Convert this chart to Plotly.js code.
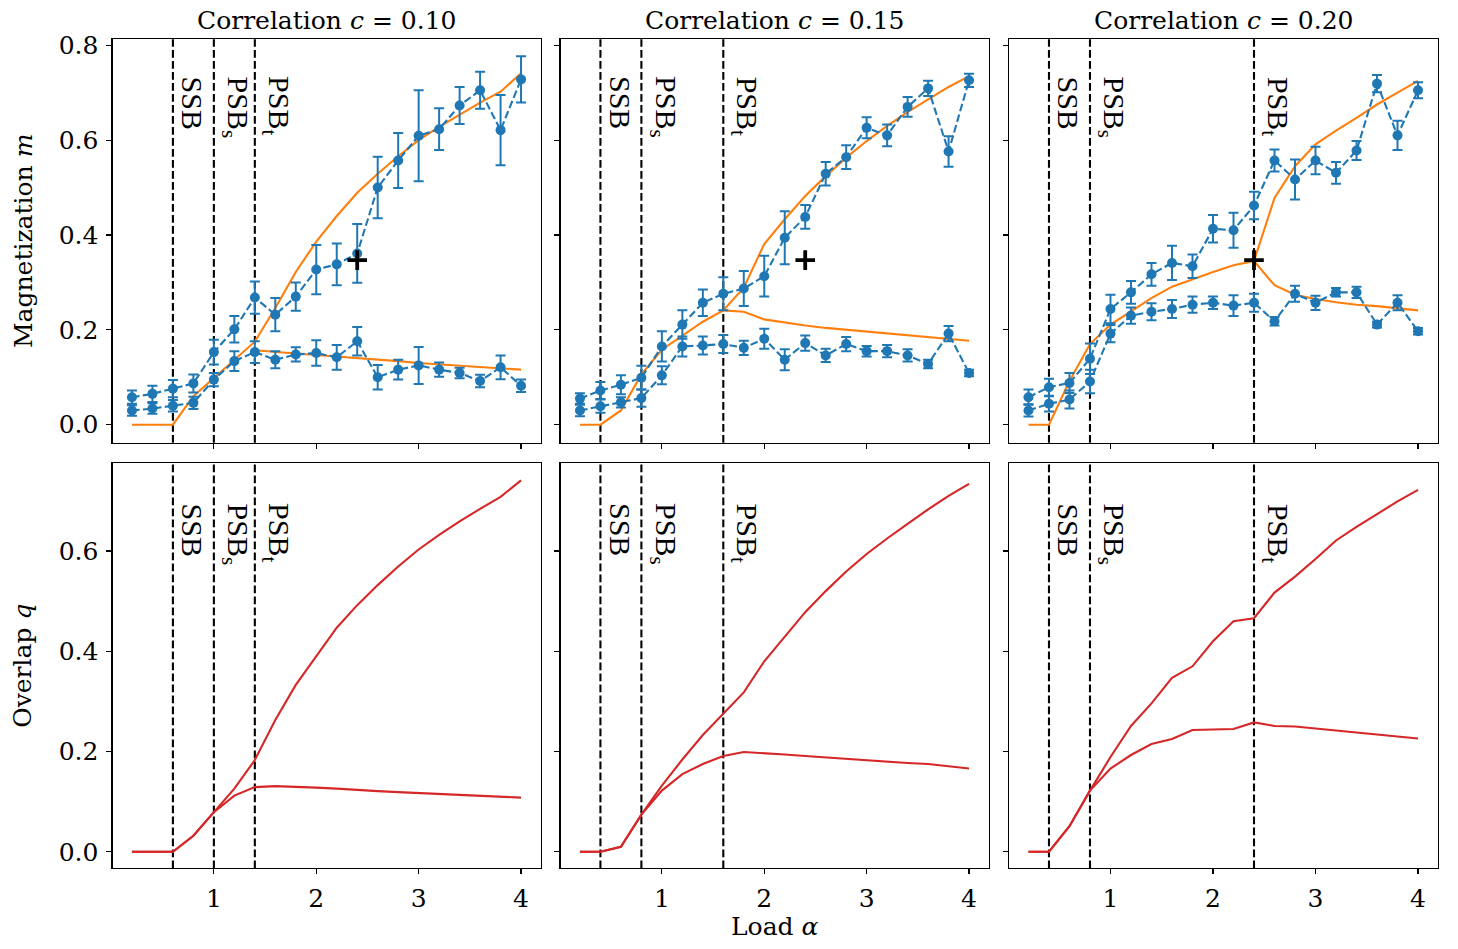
<!DOCTYPE html>
<html>
<head>
<meta charset="utf-8">
<script src="https://cdn.plot.ly/plotly-3.0.1.min.js"></script>
<style>html,body{margin:0;padding:0;background:#fff;}#chart{width:1458px;height:949px;}</style>
</head>
<body>
<div id="chart"></div>
<script>
// ---------------- data ----------------
const alpha = [0.2,0.4,0.6,0.8,1.0,1.2,1.4,1.6,1.8,2.0,2.2,2.4,2.6,2.8,3.0,3.2,3.4,3.6,3.8,4.0];
const correlations = ["0.10","0.15","0.20"];
const transitionLabels = ["SSB","PSB<sub>s</sub>","PSB<sub>t</sub>"];
const transitions1 = [0.6,1.0,1.4];
const transitions2 = [0.4,0.8,1.6];
const transitions3 = [0.4,0.8,2.4];
const xTicks = [1,2,3,4];
const mTicks = [0.0,0.2,0.4,0.6,0.8];
const qTicks = [0.0,0.2,0.4,0.6];
const plusX = [2.4];
const plusY = [0.347];

// c = 0.10
const m1Hi    = [0.058,0.065,0.076,0.087,0.153,0.201,0.268,0.232,0.270,0.327,0.338,0.361,0.500,0.557,0.609,0.623,0.673,0.705,0.621,0.728];
const m1HiErr = [0.014,0.017,0.018,0.019,0.026,0.028,0.034,0.035,0.030,0.052,0.044,0.062,0.065,0.058,0.096,0.044,0.039,0.039,0.074,0.049];
const m1Lo    = [0.030,0.034,0.040,0.046,0.095,0.134,0.153,0.137,0.148,0.151,0.142,0.176,0.100,0.116,0.125,0.116,0.109,0.092,0.121,0.082];
const m1LoErr = [0.011,0.011,0.012,0.013,0.014,0.021,0.023,0.018,0.015,0.027,0.026,0.030,0.026,0.021,0.039,0.015,0.011,0.013,0.025,0.013];
const th1Hi   = [0,0,0,0.060,0.099,0.137,0.175,0.246,0.322,0.386,0.440,0.489,0.529,0.566,0.600,0.628,0.654,0.679,0.702,0.741];
const th1LoX  = [1.4,1.6,1.8,2.0,2.2,2.4,2.6,2.8,3.0,3.2,3.4,3.6,3.8,4.0];
const th1Lo   = [0.157,0.153,0.150,0.147,0.144,0.140,0.137,0.134,0.130,0.127,0.124,0.121,0.118,0.116];
const q1Hi    = [0,0,0,0.032,0.079,0.126,0.183,0.263,0.333,0.391,0.447,0.492,0.532,0.569,0.603,0.632,0.659,0.684,0.708,0.741];
const q1Lo    = [0,0,0,0.032,0.079,0.112,0.129,0.131,0.130,0.128,0.126,0.123,0.121,0.119,0.117,0.115,0.113,0.111,0.110,0.108];

// c = 0.15
const m2Hi    = [0.055,0.072,0.084,0.099,0.165,0.211,0.257,0.276,0.287,0.313,0.394,0.438,0.529,0.564,0.626,0.610,0.670,0.709,0.576,0.726];
const m2HiErr = [0.011,0.018,0.020,0.025,0.032,0.030,0.028,0.035,0.037,0.043,0.056,0.025,0.025,0.025,0.022,0.023,0.021,0.016,0.032,0.014];
const m2Lo    = [0.030,0.039,0.047,0.056,0.104,0.165,0.167,0.170,0.162,0.181,0.137,0.172,0.146,0.170,0.155,0.155,0.146,0.128,0.192,0.109];
const m2LoErr = [0.012,0.014,0.011,0.018,0.019,0.021,0.019,0.019,0.015,0.021,0.022,0.016,0.014,0.015,0.011,0.013,0.013,0.009,0.016,0.007];
const th2Hi   = [0,0,0.030,0.106,0.158,0.188,0.217,0.241,0.289,0.381,0.433,0.482,0.524,0.563,0.598,0.630,0.659,0.686,0.712,0.735];
const th2LoX  = [1.6,1.8,2.0,2.2,2.4,2.6,2.8,3.0,3.2,3.4,3.6,3.8,4.0];
const th2Lo   = [0.241,0.238,0.222,0.215,0.209,0.204,0.200,0.196,0.192,0.189,0.185,0.181,0.177];
const q2Hi    = [0,0,0.010,0.074,0.132,0.184,0.233,0.275,0.318,0.380,0.430,0.478,0.520,0.559,0.594,0.625,0.654,0.683,0.710,0.734];
const q2Lo    = [0,0,0.010,0.074,0.122,0.155,0.175,0.191,0.199,0.197,0.194,0.191,0.188,0.185,0.182,0.180,0.177,0.175,0.171,0.166];

// c = 0.20
const m3Hi    = [0.058,0.079,0.088,0.139,0.244,0.279,0.317,0.341,0.334,0.413,0.410,0.462,0.557,0.517,0.557,0.531,0.578,0.719,0.610,0.705];
const m3HiErr = [0.016,0.018,0.021,0.032,0.030,0.024,0.024,0.036,0.025,0.029,0.037,0.029,0.023,0.042,0.029,0.023,0.020,0.018,0.031,0.017];
const m3Lo    = [0.030,0.044,0.053,0.091,0.192,0.230,0.238,0.244,0.253,0.257,0.251,0.257,0.218,0.276,0.257,0.279,0.279,0.211,0.257,0.197];
const m3LoErr = [0.013,0.016,0.019,0.025,0.018,0.017,0.018,0.019,0.017,0.013,0.022,0.019,0.009,0.017,0.015,0.009,0.012,0.006,0.016,0.007];
const th3Hi   = [0,0,0.092,0.170,0.211,0.239,0.267,0.291,0.307,0.322,0.336,0.345,0.478,0.545,0.591,0.620,0.647,0.675,0.700,0.725];
const th3LoX  = [2.4,2.6,2.8,3.0,3.2,3.4,3.6,3.8,4.0];
const th3Lo   = [0.345,0.294,0.274,0.265,0.258,0.253,0.250,0.245,0.241];
const q3Hi    = [0,0,0.051,0.122,0.189,0.251,0.296,0.347,0.370,0.420,0.460,0.466,0.517,0.549,0.584,0.621,0.648,0.674,0.699,0.722];
const q3Lo    = [0,0,0.051,0.122,0.166,0.193,0.215,0.225,0.243,0.244,0.245,0.258,0.251,0.250,0.246,0.242,0.238,0.235,0.231,0.226];

// ---------------- styling ----------------
const W = 1458, H = 949;
const BLUE = '#1f77b4', ORANGE = '#ff7f0e', RED = '#d62728';
const SERIF = 'DejaVu Serif, serif';
const LABELFONT = 'Liberation Serif, Times New Roman, serif';
const colPx = [[112.5,540.5],[560.5,988.5],[1009,1437.5]];
const topPx = [39.3,442.7], botPx = [463.3,868.3];
const xd = colPx.map(c => [c[0]/W, c[1]/W]);
const ydTop = [1-topPx[1]/H, 1-topPx[0]/H];
const ydBot = [1-botPx[1]/H, 1-botPx[0]/H];

const panels = [
  {mHi:m1Hi,mHiErr:m1HiErr,mLo:m1Lo,mLoErr:m1LoErr,thHi:th1Hi,thLoX:th1LoX,thLo:th1Lo,qHi:q1Hi,qLo:q1Lo,tr:transitions1},
  {mHi:m2Hi,mHiErr:m2HiErr,mLo:m2Lo,mLoErr:m2LoErr,thHi:th2Hi,thLoX:th2LoX,thLo:th2Lo,qHi:q2Hi,qLo:q2Lo,tr:transitions2},
  {mHi:m3Hi,mHiErr:m3HiErr,mLo:m3Lo,mLoErr:m3LoErr,thHi:th3Hi,thLoX:th3LoX,thLo:th3Lo,qHi:q3Hi,qLo:q3Lo,tr:transitions3}
];

const traces = [];
const shapes = [];
const annotations = [];
const dashPat = '7.7px,3.3px';

panels.forEach((p, i) => {
  const xt = 'x' + (i===0 ? '' : (i+1));
  const yt = 'y' + (i===0 ? '' : (i+1));
  const xb = 'x' + (i+4);
  const yb = 'y' + (i+4);
  // theory (orange)
  traces.push({x:alpha, y:p.thHi, xaxis:xt, yaxis:yt, type:'scatter', mode:'lines',
    line:{color:ORANGE, width:2.1}, hoverinfo:'skip'});
  traces.push({x:p.thLoX, y:p.thLo, xaxis:xt, yaxis:yt, type:'scatter', mode:'lines',
    line:{color:ORANGE, width:2.1}, hoverinfo:'skip'});
  // simulations (blue)
  [[p.mHi,p.mHiErr],[p.mLo,p.mLoErr]].forEach(([v,e]) => {
    traces.push({x:alpha, y:v, xaxis:xt, yaxis:yt, type:'scatter', mode:'lines+markers',
      line:{color:BLUE, width:2.1, dash:dashPat},
      marker:{color:BLUE, size:10},
      error_y:{type:'data', array:e, visible:true, color:BLUE, thickness:2, width:5}});
  });
  // plus marker
  traces.push({x:plusX, y:plusY, xaxis:xt, yaxis:yt, type:'scatter', mode:'markers',
    marker:{symbol:'cross-thin', size:14, color:'black', line:{color:'black', width:3.8}}});
  // overlap (red)
  traces.push({x:alpha, y:p.qHi, xaxis:xb, yaxis:yb, type:'scatter', mode:'lines',
    line:{color:RED, width:2.1}});
  traces.push({x:alpha, y:p.qLo, xaxis:xb, yaxis:yb, type:'scatter', mode:'lines',
    line:{color:RED, width:2.1}});

  // vertical lines + labels
  [[xt,yt,0.903],[xb,yb,0.896]].forEach(([xa,ya,ly]) => {
    p.tr.forEach((t, k) => {
      shapes.push({type:'line', xref:xa, yref:ya+' domain', x0:t, x1:t, y0:0, y1:1,
        line:{color:'black', width:2.1, dash:dashPat}, layer:'below'});
      annotations.push({x:t, y:ly, xref:xa, yref:ya+' domain', text:transitionLabels[k],
        textangle:90, xanchor:'left', yanchor:'top', showarrow:false, xshift:1, yshift:4,
        font:{family:LABELFONT, size:30, color:'black'}});
    });
  });

  // column titles
  annotations.push({x:(xd[i][0]+xd[i][1])/2, y:ydTop[1], xref:'paper', yref:'paper',
    text:'Correlation <i>c</i> = ' + correlations[i], showarrow:false,
    xanchor:'center', yanchor:'bottom', yshift:2,
    font:{family:SERIF, size:25, color:'black'}});
});

// axis titles
annotations.push({x:23/W, y:(ydTop[0]+ydTop[1])/2, xref:'paper', yref:'paper', text:'Magnetization <i>m</i>',
  textangle:-90, showarrow:false, xanchor:'center', yanchor:'middle', font:{family:SERIF, size:25, color:'black'}});
annotations.push({x:23/W, y:(ydBot[0]+ydBot[1])/2, xref:'paper', yref:'paper', text:'Overlap <i>q</i>',
  textangle:-90, showarrow:false, xanchor:'center', yanchor:'middle', font:{family:SERIF, size:25, color:'black'}});
annotations.push({x:(xd[1][0]+xd[1][1])/2, y:1-926/H, xref:'paper', yref:'paper', text:'Load <i>α</i>',
  showarrow:false, xanchor:'center', yanchor:'middle', font:{family:SERIF, size:25, color:'black'}});

const baseAxis = {showline:true, linecolor:'black', linewidth:1.1, mirror:true, ticks:'outside',
  ticklen:5, tickwidth:1.1, tickcolor:'black', showgrid:false, zeroline:false,
  tickfont:{family:SERIF, size:25, color:'black'}};

const layout = {width:W, height:H, margin:{l:0,r:0,t:0,b:0}, showlegend:false,
  paper_bgcolor:'white', plot_bgcolor:'white', shapes:shapes, annotations:annotations};

for (let i = 0; i < 3; i++) {
  const n1 = i===0 ? '' : (i+1);
  const n2 = i+4;
  layout['xaxis'+n1] = Object.assign({}, baseAxis, {domain:xd[i], range:[0.01,4.19], tickvals:xTicks,
    showticklabels:false, anchor:'y'+n1});
  layout['yaxis'+n1] = Object.assign({}, baseAxis, {domain:ydTop, range:[-0.038,0.8125], tickvals:mTicks,
    tickformat:'.1f', showticklabels:i===0, anchor:'x'+n1, ticklabelstandoff:3});
  layout['xaxis'+n2] = Object.assign({}, baseAxis, {domain:xd[i], range:[0.01,4.19], tickvals:xTicks,
    showticklabels:true, anchor:'y'+n2, ticklabelstandoff:3});
  layout['yaxis'+n2] = Object.assign({}, baseAxis, {domain:ydBot, range:[-0.033,0.775], tickvals:qTicks,
    tickformat:'.1f', showticklabels:i===0, anchor:'x'+n2, ticklabelstandoff:3});
}

Plotly.newPlot('chart', traces, layout, {displayModeBar:false, staticPlot:true});
</script>
</body>
</html>
